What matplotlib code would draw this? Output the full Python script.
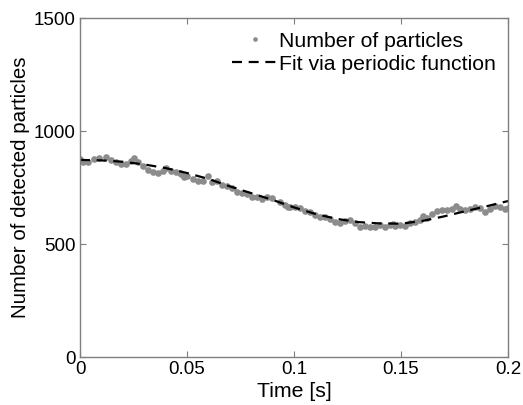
import numpy as np
import matplotlib
matplotlib.use("Agg")
import matplotlib.pyplot as plt

# particle counts (time in s, count)
t_data = np.array([
    0.0000, 0.0015, 0.0037, 0.0065, 0.0089, 0.0121, 0.0145, 0.0168, 0.0192, 0.0215,
    0.0238, 0.0252, 0.0271, 0.0294, 0.0318, 0.0341, 0.0364, 0.0388, 0.0402, 0.0425,
    0.0449, 0.0472, 0.0486, 0.0467, 0.0500, 0.0528, 0.0551, 0.0575, 0.0598, 0.0617,
    0.0640, 0.0664, 0.0687, 0.0710, 0.0734, 0.0757, 0.0780, 0.0804, 0.0827, 0.0850,
    0.0874, 0.0897, 0.0935, 0.0958, 0.0972, 0.0981, 0.1005, 0.1028, 0.1051, 0.1075,
    0.1098, 0.1121, 0.1145, 0.1168, 0.1192, 0.1215, 0.1238, 0.1262, 0.1285, 0.1308,
    0.1332, 0.1355, 0.1379, 0.1402, 0.1425, 0.1449, 0.1463, 0.1472, 0.1495, 0.1519,
    0.1542, 0.1565, 0.1589, 0.1603, 0.1621, 0.1645, 0.1668, 0.1692, 0.1715, 0.1738,
    0.1757, 0.1776, 0.1799, 0.1822, 0.1846, 0.1869, 0.1893, 0.1916, 0.1939, 0.1963,
    0.1986, 0.2000,
])
n_data = np.array([
    876, 864, 861, 876, 879, 886, 872, 861, 854, 854,
    867, 882, 864, 846, 827, 820, 813, 823, 835, 823,
    817, 808, 798, 813, 801, 786, 780, 780, 801, 776,
    780, 761, 757, 746, 731, 727, 721, 709, 707, 698,
    707, 702, 687, 673, 665, 662, 665, 658, 647, 643,
    628, 618, 618, 609, 599, 594, 603, 606, 592, 574,
    580, 574, 577, 584, 574, 584, 588, 581, 584, 581,
    592, 599, 606, 625, 614, 631, 646, 650, 650, 655,
    669, 655, 650, 655, 665, 658, 643, 655, 669, 665,
    655, 659,
])

# fitted periodic curve, sampled every 0.01 s
t_fit = np.array([0.00, 0.01, 0.02, 0.03, 0.04, 0.05, 0.06, 0.07, 0.08, 0.09, 0.10,
                  0.11, 0.12, 0.13, 0.14, 0.15, 0.16, 0.17, 0.18, 0.19, 0.20])
n_fit = np.array([872, 870, 864, 852, 836, 814, 788, 755, 725, 695, 662,
                  633, 611, 597, 591, 590, 602, 622, 645, 667, 690])

order = np.argsort(t_data)
t_data, n_data = t_data[order], n_data[order]

plt.rcParams["font.family"] = ["Liberation Sans", "DejaVu Sans"]

fig = plt.figure(figsize=(5.23, 4.05), dpi=100)
ax = fig.add_axes([80 / 523, 1 - 357 / 405, 428 / 523, 339 / 405])

ax.plot(t_data, n_data, linestyle="none", marker="o", markersize=4.8,
        color="#8c8c8c", markeredgewidth=0, label="Number of particles")
ax.plot(t_fit, n_fit, linestyle=(0, (4.5, 3)), color="black", linewidth=1.6,
        label="Fit via periodic function")

ax.set_xlim(0, 0.2)
ax.set_ylim(0, 1500)
ax.set_xticks([0, 0.05, 0.1, 0.15, 0.2])
ax.set_xticklabels(["0", "0.05", "0.1", "0.15", "0.2"])
ax.set_yticks([0, 500, 1000, 1500])

for s in ax.spines.values():
    s.set_color("#7f7f7f")
    s.set_linewidth(1.0)
ax.tick_params(direction="in", length=4, width=0.8, color="#7f7f7f",
               labelsize=13.5, top=True, right=True, pad=3)

ax.set_xlabel("Time [s]", fontsize=15.3, labelpad=3)
ax.set_ylabel("Number of detected particles", fontsize=14.8, labelpad=3)

leg = ax.legend(loc="upper right", frameon=False, fontsize=15.3, handlelength=2.1,
                handletextpad=0.1, borderaxespad=0.0, labelspacing=0.2,
                bbox_to_anchor=(0.992, 0.985), markerscale=0.7)

fig.savefig("out.png", dpi=100)
